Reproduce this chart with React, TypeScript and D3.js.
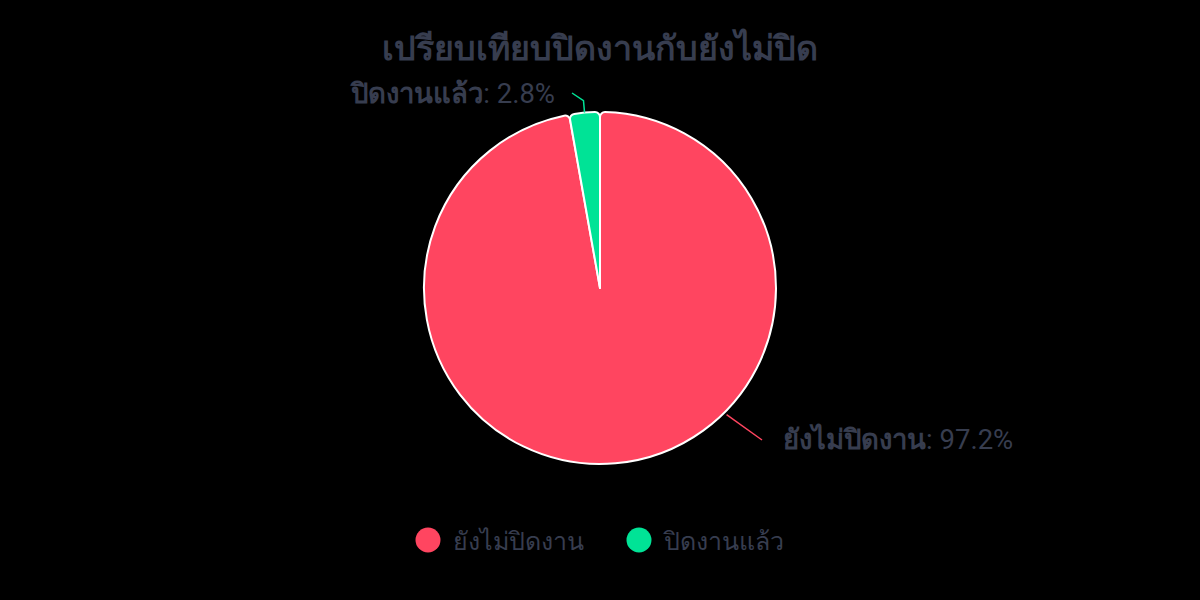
import { useRef, useEffect } from 'react';
import * as d3 from 'd3';

const categories = ['ยังไม่ปิดงาน', 'ปิดงานแล้ว'];
const values = [97.2, 2.8];
const colors = ['#ff4560', '#00e396'];
const title = 'เปรียบเทียบปิดงานกับยังไม่ปิด';

const W = 1200;
const H = 600;
const FONT = "Roboto, 'Noto Sans', 'Liberation Sans', sans-serif";
const TEXT = '#373d4f';

export default function App() {
  const svgRef = useRef<SVGSVGElement>(null);

  useEffect(() => {
    const svg = d3.select(svgRef.current);
    svg.selectAll('*').remove();

    svg.append('rect').attr('width', W).attr('height', H).attr('fill', '#000');

    svg.append('text')
      .attr('x', W / 2)
      .attr('y', 60)
      .attr('text-anchor', 'middle')
      .attr('font-family', FONT)
      .attr('font-size', 34)
      .attr('font-weight', 'bold')
      .attr('fill', TEXT)
      .text(title);

    const cx = 600;
    const cy = 288;
    const r = 176;

    const data = categories.map((c, i) => ({ name: c, value: values[i], color: colors[i] }));
    const pie = d3.pie<any>().value((d) => d.value).sort(null);
    const arcs = pie(data);
    const arc = d3.arc<any>().innerRadius(0).outerRadius(r).cornerRadius(5);

    const g = svg.append('g').attr('transform', `translate(${cx},${cy})`);

    g.selectAll('path')
      .data(arcs)
      .join('path')
      .attr('d', arc)
      .attr('fill', (d: any) => d.data.color)
      .attr('stroke', '#fff')
      .attr('stroke-width', 2)
      .attr('stroke-linejoin', 'round');

    const polar = (a: number, rr: number) => [Math.sin(a) * rr, -Math.cos(a) * rr];

    // red slice label (lower right)
    {
      const a = (135 * Math.PI) / 180;
      const p1 = polar(a, r + 3);
      const p2 = [162, 152];
      g.append('polyline')
        .attr('points', [p1, p2].map((p) => p.join(',')).join(' '))
        .attr('fill', 'none')
        .attr('stroke', colors[0])
        .attr('stroke-width', 1.5);
      const t = g.append('text')
        .attr('x', 183)
        .attr('y', 161)
        .attr('font-family', FONT)
        .attr('font-size', 27.5)
        .attr('fill', TEXT);
      t.append('tspan').attr('font-weight', 'bold').text(categories[0]);
      t.append('tspan').text(`: ${values[0]}%`);
    }

    // green slice label (top left)
    {
      const a = (arcs[1].startAngle + arcs[1].endAngle) / 2;
      const p1 = polar(a, r);
      const p2 = polar(a, r + 12);
      const p3 = [-28, -195];
      g.append('polyline')
        .attr('points', [p1, p2, p3].map((p) => p.join(',')).join(' '))
        .attr('fill', 'none')
        .attr('stroke', colors[1])
        .attr('stroke-width', 1.5);
      const t = g.append('text')
        .attr('x', -45)
        .attr('y', -185)
        .attr('text-anchor', 'end')
        .attr('font-family', FONT)
        .attr('font-size', 27.5)
        .attr('fill', TEXT);
      t.append('tspan').attr('font-weight', 'bold').text(categories[1]);
      t.append('tspan').text(`: ${values[1]}%`);
    }

    // legend
    const legendX = [428, 639];
    const lg = svg.append('g');
    data.forEach((d, i) => {
      lg.append('circle')
        .attr('cx', legendX[i])
        .attr('cy', 540)
        .attr('r', 12.5)
        .attr('fill', d.color);
      lg.append('text')
        .attr('x', legendX[i] + 25)
        .attr('y', 550)
        .attr('font-family', FONT)
        .attr('font-size', 25)
        .attr('fill', TEXT)
        .text(d.name);
    });
  }, []);

  return <svg ref={svgRef} width={W} height={H} style={{ display: 'block', position: 'absolute', left: 0, top: 0 }} />;
}
